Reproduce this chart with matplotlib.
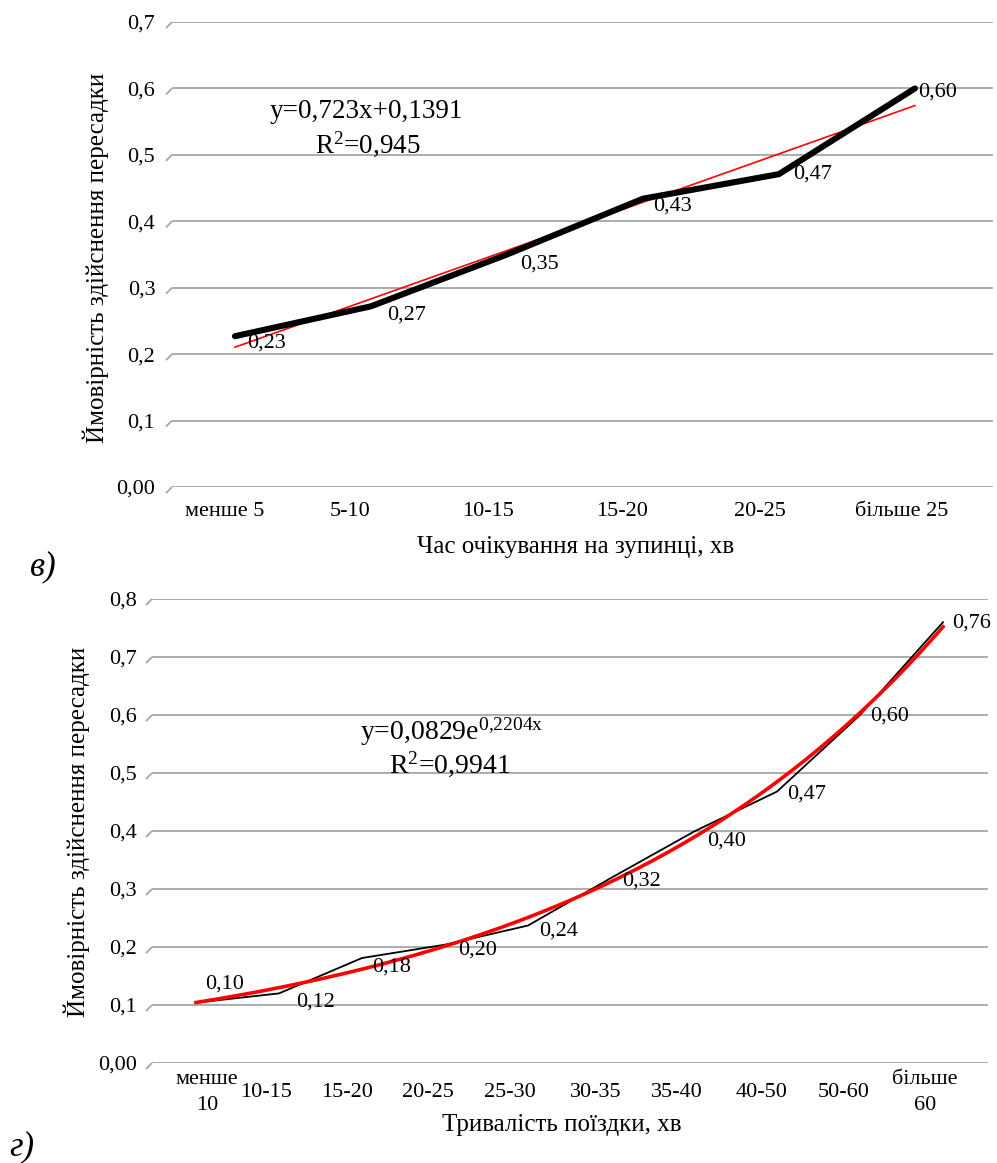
import numpy as np
import matplotlib
matplotlib.use('Agg')
import matplotlib.pyplot as plt
from matplotlib.transforms import ScaledTranslation

plt.rcParams['font.family'] = ['Liberation Serif', 'DejaVu Serif']
plt.rcParams['mathtext.fontset'] = 'custom'
plt.rcParams['mathtext.rm'] = 'Liberation Serif'
plt.rcParams['mathtext.it'] = 'Liberation Serif:italic'

# ---------------- data ----------------
wait_categories = ['менше 5', '5-10', '10-15', '15-20', '20-25', 'більше 25']
wait_probability = [0.227, 0.272, 0.35, 0.434, 0.471, 0.60]
wait_yticks = [0.0, 0.1, 0.2, 0.3, 0.4, 0.5, 0.6, 0.7]
wait_equation = 'y=0,723x+0,1391'
wait_r2 = 'R$^{2}$=0,945'

trip_categories = ['менше\n10', '10-15', '15-20', '20-25', '25-30', '30-35',
                   '35-40', '40-50', '50-60', 'більше\n60']
trip_probability = [0.104, 0.12, 0.181, 0.204, 0.237, 0.319, 0.399, 0.468, 0.60, 0.76]
trip_yticks = [0.0, 0.1, 0.2, 0.3, 0.4, 0.5, 0.6, 0.7, 0.8]
trip_equation = r'y=0,0829e$^{\mathrm{0{,}2204x}}$'
trip_r2 = 'R$^{2}$=0,9941'

# ---------------- style ----------------
GRID = '#A6A6A6'
FS = 16
FS_LABEL = 18
W, H = 997, 1163

fig = plt.figure(figsize=(W / 100, H / 100), dpi=100)


def fmt_tick(v):
    return '0,00' if v == 0 else f'{v:.1f}'.replace('.', ',')


def fmt_label(v):
    return f'{v:.2f}'.replace('.', ',')


def setup_axes(rect_px, xlim, yticks, ypad, xpad):
    l, t, r, b = rect_px
    ax = fig.add_axes([l / W, 1 - b / H, (r - l) / W, (b - t) / H])
    ax.set_xlim(*xlim)
    ax.set_ylim(yticks[0], yticks[-1])
    for s in ax.spines.values():
        s.set_visible(False)
    ax.set_yticks(yticks, [fmt_tick(v) for v in yticks], fontsize=FS)
    ax.yaxis.grid(True, color=GRID, linewidth=1.3)
    ax.set_axisbelow(True)
    ax.tick_params(axis='y', length=0, pad=ypad)
    ax.tick_params(axis='x', length=0, pad=xpad)
    # small slanted start of each gridline
    axw, axh = r - l, b - t
    yr = yticks[-1] - yticks[0]
    for v in yticks:
        ax.plot([-6 / axw, 0], [v - 6 / axh * yr, v], transform=ax.get_yaxis_transform(),
                color=GRID, lw=1.3, clip_on=False, solid_capstyle='butt')
    return ax


def shift_xticklabels(ax, offsets):
    for lbl, dx in zip(ax.get_xticklabels(), offsets):
        lbl.set_va('center')
        lbl.set_linespacing(1.5)
        lbl.set_transform(lbl.get_transform() + ScaledTranslation(dx / 100, 0, fig.dpi_scale_trans))


# ================= top chart (в) =================
ax1 = setup_axes((172, 22, 993, 487), (0.537, 6.574), wait_yticks, ypad=12, xpad=18)
x1 = np.arange(1, len(wait_probability) + 1)
ax1.set_xticks(x1, wait_categories, fontsize=FS)
shift_xticklabels(ax1, [-10, -21, -19, -21, -19, -13])

k1, b1 = np.polyfit(x1, wait_probability, 1)
ax1.plot(x1[[0, -1]], k1 * x1[[0, -1]] + b1, color='#FF0000', lw=1.2, zorder=2)
ax1.plot(x1, wait_probability, color='black', lw=4.4, solid_joinstyle='round',
         solid_capstyle='round', zorder=3)

off1 = [(12, 7), (16, 9), (13, 10), (10, 7), (14, 0), (3, 4)]
for xi, v, (dx, dy) in zip(x1, wait_probability, off1):
    ax1.annotate(fmt_label(v), (xi, v), xytext=(dx, -dy), textcoords='offset pixels',
                 ha='left', va='center', fontsize=FS, zorder=4)

ax1.text(0.237, 0.7935, wait_equation, transform=ax1.transAxes, ha='center',
         va='baseline', fontsize=19.5)
ax1.text(0.238, 0.7204, wait_r2, transform=ax1.transAxes, ha='center',
         va='baseline', fontsize=19.5)

ax1.set_ylabel('Ймовірність здійснення пересадки', fontsize=FS_LABEL)
ax1.yaxis.label.set_va('center')
ax1.yaxis.set_label_coords(-0.093, 0.4925)
ax1.set_xlabel('Час очікування на зупинці, хв', fontsize=FS_LABEL)
ax1.xaxis.label.set_va('center')
ax1.xaxis.set_label_coords(0.491, -0.129)

fig.text(43 / W, 1 - 567 / H, 'в)', style='italic', fontsize=25, ha='center', va='center')

# ================= bottom chart (г) =================
ax2 = setup_axes((152, 599, 988, 1063), (0.470, 10.542), trip_yticks, ypad=11, xpad=21)
x2 = np.arange(1, len(trip_probability) + 1)
ax2.set_xticks(x2, trip_categories, fontsize=FS)
shift_xticklabels(ax2, [11, -13, -15, -17, -18, -15, -17, -15, -16, -18])

kk, bb = np.polyfit(x2, np.log(trip_probability), 1)
xs = np.linspace(1, len(trip_probability), 200)
ax2.plot(x2, trip_probability, color='black', lw=1.3, zorder=2)
ax2.plot(xs, np.exp(bb) * np.exp(kk * xs), color='#FF0000', lw=2.6, zorder=3)

off2 = [(9, -19), (17, 9), (10, 9), (13, 5), (11, 6), (11, 3), (13, 9), (10, 2), (10, 1), (9, 1)]
for xi, v, (dx, dy) in zip(x2, trip_probability, off2):
    ax2.annotate(fmt_label(v), (xi, v), xytext=(dx, -dy), textcoords='offset pixels',
                 ha='left', va='center', fontsize=FS, zorder=4)

ax2.text(0.358, 0.696, trip_equation, transform=ax2.transAxes, ha='center',
         va='baseline', fontsize=20)
ax2.text(0.356, 0.625, trip_r2, transform=ax2.transAxes, ha='center',
         va='baseline', fontsize=20)

ax2.set_ylabel('Ймовірність здійснення пересадки', fontsize=FS_LABEL)
ax2.yaxis.label.set_va('center')
ax2.yaxis.set_label_coords(-0.090, 0.498)
ax2.set_xlabel('Тривалість поїздки, хв', fontsize=FS_LABEL)
ax2.xaxis.label.set_va('center')
ax2.xaxis.set_label_coords(0.4904, -0.1336)

fig.text(22 / W, 1 - 1147 / H, 'г)', style='italic', fontsize=25, ha='center', va='center')

fig.savefig('out.png', dpi=100)
